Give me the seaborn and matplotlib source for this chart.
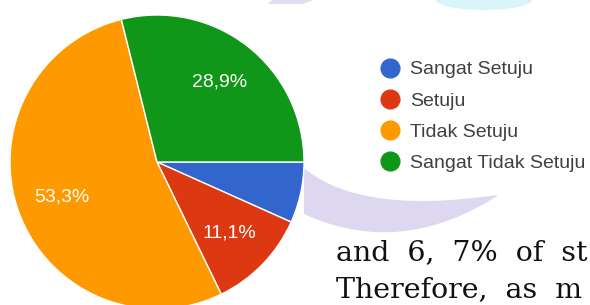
import matplotlib
matplotlib.use("Agg")
import matplotlib.pyplot as plt
from matplotlib.lines import Line2D
from matplotlib.patches import Polygon, Ellipse
import numpy as np
import seaborn as sns

# survey answers (Google Forms pie)
categories = ["Sangat Setuju", "Setuju", "Tidak Setuju", "Sangat Tidak Setuju"]
percentages = [6.7, 11.1, 53.3, 28.9]
colors = ["#3366CC", "#DC3912", "#FF9900", "#109618"]

sns.set_style("white")
plt.rcParams["font.family"] = ["Liberation Sans", "DejaVu Sans"]
palette = sns.color_palette(colors)

fig = plt.figure(figsize=(5.9, 3.05), dpi=100)
fig.patch.set_facecolor("white")

# faint watermark shapes behind everything (pixel coords, top-left origin)
bg = fig.add_axes([0, 0, 1, 1], zorder=0)
bg.set_xlim(0, 590)
bg.set_ylim(305, 0)
bg.axis("off")


def bezier(p0, p1, p2, n=30):
    s = np.linspace(0, 1, n)[:, None]
    return (1 - s) ** 2 * np.array(p0) + 2 * s * (1 - s) * np.array(p1) + s ** 2 * np.array(p2)


swoosh = np.vstack([bezier((304, 168), (360, 215), (497, 195)),
                    bezier((497, 196), (400, 258), (304, 214))])
bg.add_patch(Polygon(swoosh, closed=True, color="#DDD8EF", lw=0))
bg.add_patch(Polygon([[272, 0], [314, 0], [302, 4], [268, 4]], closed=True, color="#E2DDF0", lw=0))
bg.add_patch(Ellipse((484, 0), 96, 20, color="#DAF5FA", lw=0))

# pie
ax = fig.add_axes([10 / 590, -4 / 305, 294 / 590, 294 / 305], zorder=1)


def fmt(p):
    if p < 10:
        return ""
    return f"{p:.1f}%".replace(".", ",")


wedges, texts, autotexts = ax.pie(
    percentages, colors=palette, startangle=0, counterclock=False,
    autopct=fmt, pctdistance=0.69,
    wedgeprops=dict(edgecolor="white", linewidth=1),
    textprops=dict(color="white", fontsize=14),
)
ax.set_xlim(-1, 1)
ax.set_ylim(-1, 1)
ax.axis("off")

# legend
handles = [Line2D([0], [0], marker="o", linestyle="", markersize=13.5,
                  markerfacecolor=c, markeredgecolor=c) for c in palette]
leg = fig.legend(handles, categories, loc="upper left", bbox_to_anchor=(372 / 590, 1 - 53 / 305),
                 frameon=False, fontsize=14, labelspacing=0.7, handletextpad=0.55,
                 handlelength=1.0, borderaxespad=0)
for txt in leg.get_texts():
    txt.set_color("#404040")

# document text around the figure
fig.text(336 / 590, 1 - 260 / 305, "and  6,  7%  of  st", fontsize=20.5,
         family="DejaVu Serif", color="#111111", va="baseline")
fig.text(336 / 590, 1 - 297 / 305, "Therefore,  as  m", fontsize=20.5,
         family="DejaVu Serif", color="#111111", va="baseline")

fig.savefig("out.png", dpi=100, facecolor="white")
